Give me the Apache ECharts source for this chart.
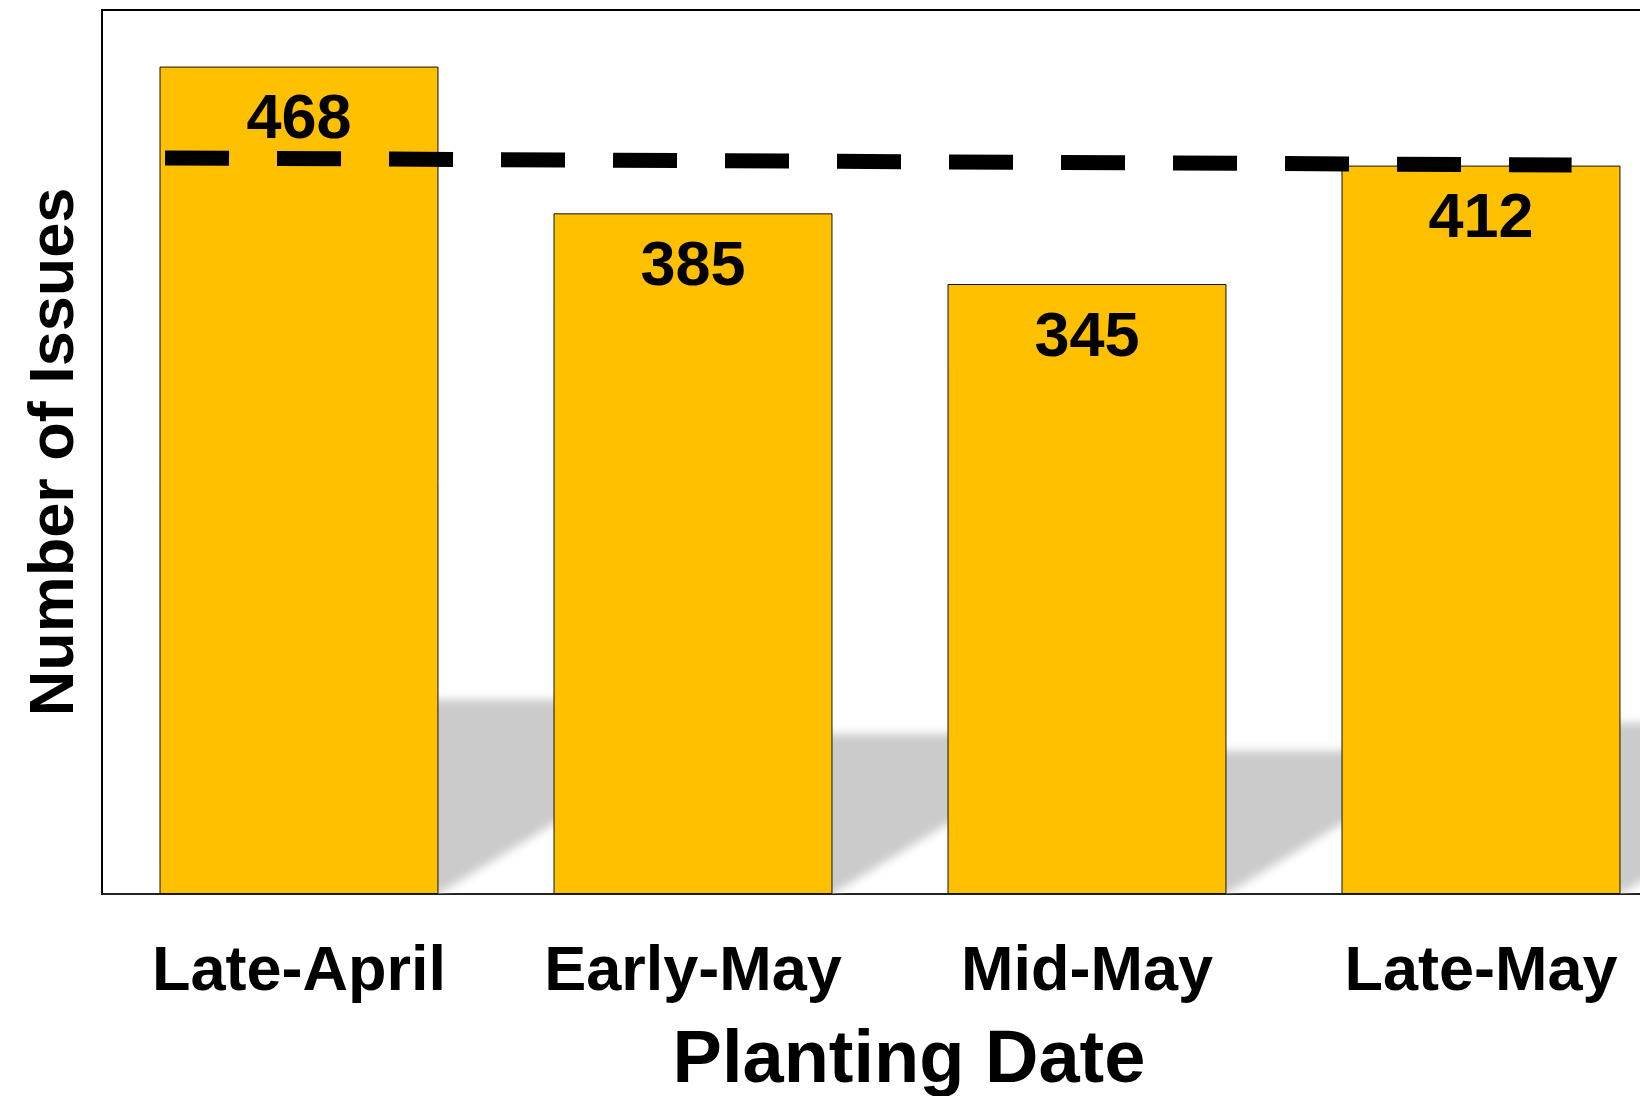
<!DOCTYPE html>
<html>
<head>
<meta charset="utf-8">
<script src="https://cdn.jsdelivr.net/npm/echarts@6/dist/echarts.min.js"></script>
<style>
  html, body { margin: 0; padding: 0; background: #ffffff; }
  #chart { width: 1640px; height: 1096px; }
</style>
</head>
<body>
<div id="chart"></div>
<script>
// Issues counted per planting window
const categories = ['Late-April', 'Early-May', 'Mid-May', 'Late-May'];
const issues = [468, 385, 345, 412];

// Dashed reference line, on a 0–4 band scale that spans the category axis
const refLineX = [0.16, 3.73];
const refLineY = [416.3, 412.3];

const FONT = '"Liberation Sans", Arial, Helvetica, sans-serif';
const BAR_WIDTH_RATIO = 0.708;

const chart = echarts.init(document.getElementById('chart'), null, { renderer: 'canvas' });

// Soft floor shadow cast up and to the right of each bar
function renderShadow(params, api) {
  const band = api.size([1, 0])[0];
  const base = api.coord([api.value(0), 0]);
  const top = api.coord([api.value(0), api.value(1)]);
  const barW = band * BAR_WIDTH_RATIO;
  const xc = base[0];
  const xr = base[0] + barW / 2;
  const h = (base[1] - top[1]) * 0.235;
  const dx = h / 0.61;
  const OFF = 5000;
  const cs = params.coordSys;
  return {
    type: 'polygon',
    shape: {
      points: [
        [xc - OFF, base[1]],
        [xr - OFF, base[1]],
        [xr + dx - OFF, base[1] - h],
        [xc - OFF, base[1] - h]
      ]
    },
    style: {
      fill: '#cccccc',
      shadowColor: '#cbcbcb',
      shadowBlur: 10,
      shadowOffsetX: OFF
    },
    clipPath: {
      type: 'rect',
      shape: { x: cs.x, y: cs.y, width: cs.width, height: cs.height }
    }
  };
}

chart.setOption({
  animation: false,
  backgroundColor: '#ffffff',
  grid: {
    left: 102,
    top: 10,
    width: 1576,
    bottom: 202,
    containLabel: false,
    outerBoundsMode: 'none',
    show: true,
    borderColor: '#000000',
    borderWidth: 2,
    backgroundColor: 'transparent'
  },
  xAxis: [
    {
      type: 'category',
      data: categories,
      axisLine: { show: true, lineStyle: { color: '#222222', width: 2 } },
      axisTick: { show: false },
      axisLabel: {
        interval: 0,
        margin: 47,
        color: '#000000',
        fontFamily: FONT,
        fontWeight: 'bold',
        fontSize: 63
      },
      name: 'Planting Date',
      nameLocation: 'middle',
      nameGap: 131,
      nameTextStyle: {
        color: '#000000',
        fontFamily: FONT,
        fontWeight: 'bold',
        fontSize: 74,
        padding: [0, 0, 0, 38]
      }
    },
    {
      type: 'value',
      min: 0,
      max: 4,
      show: false
    }
  ],
  yAxis: {
    type: 'value',
    min: 0,
    max: 500,
    axisLine: { show: true, lineStyle: { color: '#000000', width: 2 } },
    axisTick: { show: false },
    axisLabel: { show: false },
    splitLine: { show: false },
    name: 'Number of Issues',
    nameLocation: 'middle',
    nameRotate: 90,
    nameGap: 15,
    nameTextStyle: {
      color: '#000000',
      fontFamily: FONT,
      fontWeight: 'bold',
      fontSize: 63
    }
  },
  series: [
    {
      type: 'custom',
      xAxisIndex: 0,
      renderItem: renderShadow,
      data: issues.map((v, i) => [i, v]),
      z: 1,
      silent: true
    },
    {
      type: 'bar',
      xAxisIndex: 0,
      data: issues,
      barWidth: (BAR_WIDTH_RATIO * 100) + '%',
      itemStyle: { color: '#FFC000', borderColor: '#111111', borderWidth: 1 },
      label: {
        show: true,
        position: 'insideTop',
        distance: 23,
        color: '#000000',
        fontFamily: FONT,
        fontWeight: 'bold',
        fontSize: 63
      },
      z: 2
    },
    {
      type: 'line',
      xAxisIndex: 1,
      data: refLineX.map((x, i) => [x, refLineY[i]]),
      symbol: 'none',
      lineStyle: { color: '#000000', width: 15, type: [64, 48], cap: 'butt' },
      z: 3,
      silent: true
    }
  ]
});
</script>
</body>
</html>
